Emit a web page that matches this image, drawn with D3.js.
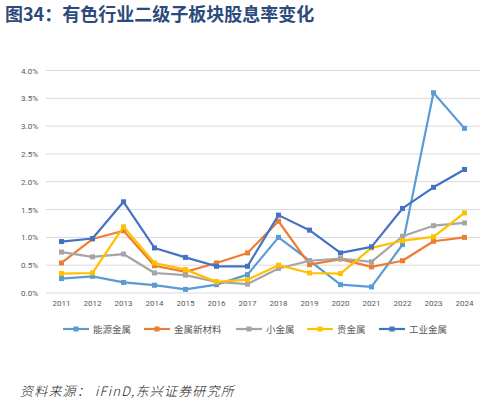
<!DOCTYPE html>
<html>
<head>
<meta charset="utf-8">
<script src="https://cdn.jsdelivr.net/npm/d3@7"></script>
<style>
  body { margin:0; background:#fff; }
  svg text { font-family: "Noto Sans CJK SC", "Noto Sans", sans-serif; }
</style>
</head>
<body>
<svg id="chart" width="500" height="404"></svg>
<script>
// ===== DATA =====
const years = ["2011","2012","2013","2014","2015","2016","2017","2018","2019","2020","2021","2022","2023","2024"];
const energyMetals   = [0.26,0.30,0.19,0.14,0.065,0.15,0.33,1.00,0.58,0.15,0.11,0.87,3.60,2.96];
const newMaterials   = [0.54,0.97,1.12,0.49,0.38,0.54,0.72,1.29,0.51,0.61,0.47,0.58,0.93,1.00];
const minorMetals    = [0.735,0.65,0.70,0.36,0.32,0.20,0.16,0.44,0.58,0.62,0.56,1.02,1.21,1.26];
const preciousMetals = [0.35,0.36,1.19,0.54,0.42,0.20,0.24,0.50,0.36,0.35,0.81,0.94,1.01,1.44];
const industrialMetals = [0.925,0.98,1.64,0.81,0.64,0.48,0.48,1.40,1.13,0.72,0.83,1.52,1.90,2.22];
const seriesNames = ["能源金属","金属新材料","小金属","贵金属","工业金属"];
const yTicks = [0,0.5,1.0,1.5,2.0,2.5,3.0,3.5,4.0];

const colors = ["#5B9BD5","#ED7D31","#A5A5A5","#FFC000","#4472C4"];
const series = [energyMetals,newMaterials,minorMetals,preciousMetals,industrialMetals]
  .map((vals,i)=>({name:seriesNames[i], color:colors[i], values:vals}));

const svg = d3.select("#chart");

// ===== TITLE =====
svg.append("text").attr("x",5).attr("y",21)
  .attr("font-size",18).attr("font-weight","bold").attr("fill","#2C4A7C")
  .text("图34：有色行业二级子板块股息率变化");

// ===== SCALES =====
const x = d3.scaleBand().domain(years).range([46,480]);
const y = d3.scaleLinear().domain([0,4]).range([293,70.5]);
const cx = d => x(d) + x.bandwidth()/2;

// gridlines
svg.append("g").selectAll("line").data(yTicks).join("line")
  .attr("x1",46).attr("x2",480)
  .attr("y1",d=>y(d)).attr("y2",d=>y(d))
  .attr("stroke","#D9D9D9").attr("stroke-width",1);

// y axis labels
const yAxis = svg.append("g").attr("transform","translate(38,0)")
  .call(d3.axisLeft(y).tickValues(yTicks).tickFormat(d=>d.toFixed(1)+"%").tickSize(0).tickPadding(0));
yAxis.select(".domain").remove();
yAxis.selectAll("text").attr("font-size",8).attr("fill","#595959")
  .style("font-family","Roboto, 'Noto Sans', sans-serif");

// x axis labels
const xAxis = svg.append("g").attr("transform","translate(0,300)")
  .call(d3.axisBottom(x).tickSize(0).tickPadding(0));
xAxis.select(".domain").remove();
xAxis.selectAll("text").attr("font-size",8).attr("fill","#595959")
  .style("font-family","Roboto, 'Noto Sans', sans-serif");

// ===== LINES =====
const line = d3.line().x((d,i)=>cx(years[i])).y(d=>y(d));
const g = svg.append("g");
series.forEach(s=>{
  g.append("path").datum(s.values).attr("d",line)
    .attr("fill","none").attr("stroke",s.color).attr("stroke-width",2.2)
    .attr("stroke-linejoin","round");
  g.selectAll(null).data(s.values).join("rect")
    .attr("x",(d,i)=>cx(years[i])-2.5).attr("y",d=>y(d)-2.5)
    .attr("width",5).attr("height",5).attr("fill",s.color);
});

// ===== LEGEND =====
const legendX = [63,144,236,307,379];
const lg = svg.append("g").attr("transform","translate(0,329)");
series.forEach((s,i)=>{
  const it = lg.append("g").attr("transform",`translate(${legendX[i]},0)`);
  it.append("line").attr("x1",0).attr("x2",26).attr("y1",0).attr("y2",0)
    .attr("stroke",s.color).attr("stroke-width",2.2);
  it.append("rect").attr("x",10.5).attr("y",-2.5).attr("width",5).attr("height",5).attr("fill",s.color);
  it.append("text").attr("x",30).attr("y",3.5).attr("font-size",9.5).attr("fill","#595959").text(s.name);
});

// ===== SOURCE =====
svg.append("text").attr("x",20).attr("y",396)
  .attr("font-size",13).attr("font-style","italic").attr("font-weight",300)
  .attr("letter-spacing",1.2).attr("fill","#222")
  .text("资料来源：  iFinD,东兴证券研究所");
</script>
</body>
</html>
